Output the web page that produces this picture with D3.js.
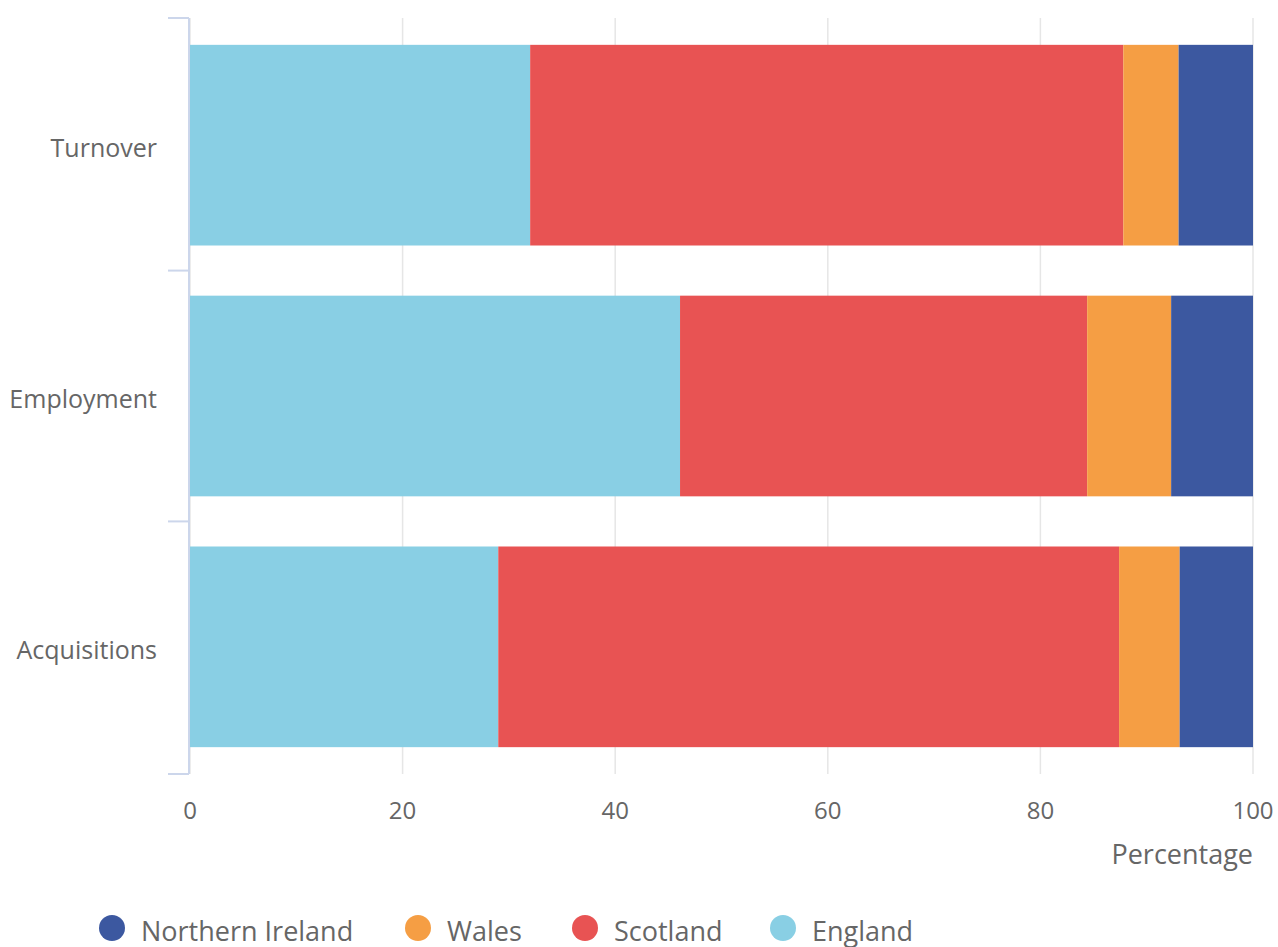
<!DOCTYPE html>
<html><head><meta charset="utf-8">
<script src="https://cdn.jsdelivr.net/npm/d3@7"></script>
<style>body{margin:0;background:#fff;font-family:"Open Sans",sans-serif;}</style>
</head><body><svg id="c" width="1278" height="947"></svg>
<script>
const categories = ["Turnover", "Employment", "Acquisitions"];
const seriesNames = ["England", "Scotland", "Wales", "Northern Ireland"];
const england = [32.0, 46.1, 29.0];
const scotland = [55.8, 38.3, 58.4];
const wales = [5.2, 7.9, 5.7];
const northernIreland = [7.0, 7.7, 6.9];
const xTicks = [0, 20, 40, 60, 80, 100];
const legendOrder = ["Northern Ireland", "Wales", "Scotland", "England"];
const colors = {"England": "#89cfe4", "Scotland": "#e85353", "Wales": "#f59e44", "Northern Ireland": "#3c58a0"};

const seriesValues = {"England": england, "Scotland": scotland, "Wales": wales, "Northern Ireland": northernIreland};
const rows = categories.map((c, i) => {
  const r = {category: c};
  seriesNames.forEach(s => r[s] = seriesValues[s][i]);
  return r;
});
const stack = d3.stack().keys(seriesNames)(rows);

const svg = d3.select("#c");
const pLeft = 190, pRight = 1253, pTop = 18, pBottom = 774;
const x = d3.scaleLinear().domain([0, 100]).range([pLeft, pRight]);
const y = d3.scaleBand().domain(categories).range([pTop, pBottom]).paddingInner(0.2).paddingOuter(0.107);

// grid
svg.append("g").selectAll("line").data(xTicks).join("line")
  .attr("x1", d => x(d)).attr("x2", d => x(d)).attr("y1", pTop).attr("y2", pBottom)
  .attr("stroke", "#e6e6e6").attr("stroke-width", 1.5);

// bars
svg.append("g").selectAll("g").data(stack).join("g")
  .attr("fill", d => colors[d.key])
  .selectAll("rect").data(d => d).join("rect")
  .attr("x", d => x(d[0])).attr("width", d => x(d[1]) - x(d[0]))
  .attr("y", d => y(d.data.category)).attr("height", y.bandwidth());

// left axis
const yAxis = svg.append("g");
yAxis.append("line").attr("x1", 189).attr("x2", 189).attr("y1", pTop).attr("y2", pBottom)
  .attr("stroke", "#ccd6eb").attr("stroke-width", 2);
const gap = (y.step() - y.bandwidth()) / 2;
const edges = [pTop].concat(categories.slice(1).map(c => y(c) - gap)).concat([pBottom]);
yAxis.selectAll("line.tick").data(edges).join("line").attr("class", "tick")
  .attr("x1", 168).attr("x2", 189).attr("y1", d => d).attr("y2", d => d)
  .attr("stroke", "#ccd6eb").attr("stroke-width", 2);
yAxis.selectAll("text").data(categories).join("text")
  .attr("x", 157).attr("y", d => y(d) + y.bandwidth() / 2 + 12)
  .attr("text-anchor", "end")
  .attr("fill", "#666").attr("font-size", 25).text(d => d);

// x axis labels
svg.append("g").selectAll("text").data(xTicks).join("text")
  .attr("x", d => x(d)).attr("y", 819)
  .attr("text-anchor", "middle")
  .attr("fill", "#666").attr("font-size", 24).text(d => d);
svg.append("text").attr("x", pRight).attr("y", 864)
  .attr("text-anchor", "end")
  .attr("fill", "#666").attr("font-size", 27).text("Percentage");

// legend
const legendX = [112, 418, 585, 783];
const lg = svg.append("g").selectAll("g").data(legendOrder).join("g")
  .attr("transform", (d, i) => `translate(${legendX[i]},928)`);
lg.append("circle").attr("r", 13).attr("fill", d => colors[d]);
lg.append("text").attr("x", 29).attr("y", 13)
  .attr("fill", "#666").attr("font-size", 27).text(d => d);
</script></body></html>
